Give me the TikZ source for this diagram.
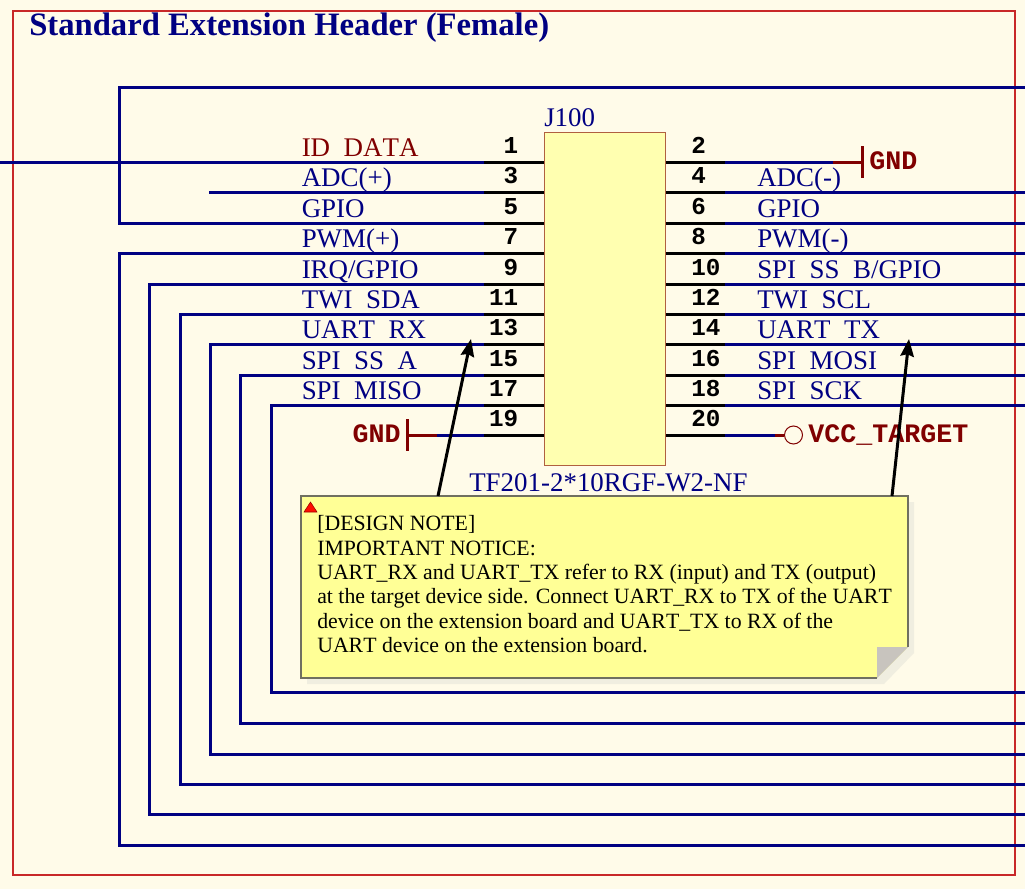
\documentclass[tikz,border=0pt]{standalone}
\usepackage{fontspec}
\setmainfont{Liberation Serif}[Kerning=Off]
\newfontfamily\pinfont{Liberation Mono}[BoldFont={Liberation Mono Bold}]
\usetikzlibrary{
    arrows.meta,
    calc
}
\definecolor{sheet}{RGB}{255,251,233}
\definecolor{framered}{RGB}{200,40,40}
\definecolor{netblue}{RGB}{0,0,130}
\definecolor{powerred}{RGB}{128,0,0}
\definecolor{chipfill}{RGB}{255,255,176}
\definecolor{chipline}{RGB}{176,96,64}
\definecolor{notefill}{RGB}{255,255,150}
\definecolor{noteline}{RGB}{112,112,96}
\definecolor{noteshadow}{RGB}{240,238,224}
\definecolor{notefold}{RGB}{200,196,190}
\newcommand{\lowus}{\raisebox{-3.5pt}{\_}}
\tikzset{
    wire/.style={netblue, line width=2.25pt},
    stub/.style={black, line width=2.25pt},
    powerwire/.style={powerred, line width=2.25pt},
    netlabel/.style={anchor=base west, inner sep=0pt, text=netblue, font=\fontsize{20.2}{24}\selectfont},
    pinnum/.style={inner sep=0pt, text=black, font=\pinfont\bfseries\fontsize{18.2}{20}\selectfont},
    powerlabel/.style={anchor=base west, inner sep=0pt, text=powerred, font=\pinfont\bfseries\fontsize{20}{22}\selectfont},
    notearrow/.style={black, line width=2.25pt, -{Stealth[length=13pt, width=10pt, inset=1.5pt]}}
}
\begin{document}
\begin{tikzpicture}[x=0.75pt, y=-0.75pt]
    \useasboundingbox (0, 0) rectangle (1025, 889);
    \fill[sheet] (0, 0) rectangle (1025, 889);
    \draw[draw=framered, line width=0.9pt] (13, 11) rectangle (1015, 875);

    \node[anchor=base west, inner sep=0pt, text=netblue, font=\bfseries\fontsize{24.5}{28}\selectfont] (title) at (29, 35) {Standard Extension Header (Female)};

    % connector body
    \node[draw=chipline, fill=chipfill, line width=0.75pt, minimum width=90.75pt, minimum height=249.75pt, inner sep=0pt] (J100) at (604.5, 298.5) {};
    \node[netlabel, anchor=base west] (designator) at (544, 126) {J100};
    \node[netlabel, anchor=base west] (partname) at (469, 491) {TF201-2*10RGF-W2-NF};

    % net names, the wires go over them
    \node[netlabel, text=powerred] (l1) at (301.5, 156) {ID\lowus DATA};
    \foreach \n/\y/\t in {3/192/ADC(+), 5/223/GPIO, 7/253/PWM(+), 9/284/IRQ{/}GPIO, 11/314/TWI\lowus SDA, 13/344/UART\lowus RX, 15/375/SPI\lowus SS\lowus A, 17/405/SPI\lowus MISO}
        \node[netlabel] (l\n) at (301.5, \y-6) {\t};
    \foreach \n/\y/\t in {4/192/ADC(-), 6/223/GPIO, 8/253/PWM(-), 10/284/SPI\lowus SS\lowus B{/}GPIO, 12/314/TWI\lowus SCL, 14/344/UART\lowus TX, 16/375/SPI\lowus MOSI, 18/405/SPI\lowus SCK}
        \node[netlabel] (l\n) at (757, \y-6) {\t};

    % pins
    \foreach \n/\y in {1/162, 3/192, 5/223, 7/253, 9/284, 11/314, 13/344, 15/375, 17/405, 19/435} {
        \coordinate (w\n) at (484, \y);
        \draw[stub] (w\n) -- (w\n -| J100.west);
        \node[pinnum, anchor=base east] (n\n) at (518.5, \y-8.5) {\n};
    }
    \foreach \n/\y in {2/162, 4/192, 6/223, 8/253, 10/284, 12/314, 14/344, 16/375, 18/405, 20/435} {
        \coordinate (w\n) at (725, \y);
        \draw[stub] (w\n) -- (w\n -| J100.east);
        \node[pinnum, anchor=base west] (n\n) at (691, \y-8.5) {\n};
    }

    % nets on the left
    \coordinate (idend) at (0, 162);
    \coordinate (adcend) at (209, 192);
    \coordinate (gpiotop) at (119, 87);
    \coordinate (gpioend) at (1025, 87);
    \draw[wire] (w1) -- (idend);
    \draw[wire] (w3) -- (adcend);
    \draw[wire] (w5) -| (gpiotop) -- (gpioend);
    \foreach \n/\x/\y in {7/119/845, 9/149/814, 11/180/784, 13/210/754, 15/240/723, 17/271/692} {
        \coordinate (b\n) at (\x, \y);
        \coordinate (e\n) at (1025, \y);
        \draw[wire] (w\n) -| (b\n) -- (e\n);
    }

    % nets on the right
    \foreach \n in {4, 6, 8, 10, 12, 14, 16, 18}
        \draw[wire] (w\n) -- (1025, 0 |- w\n);

    % power
    \coordinate (gndr) at (862, 162);
    \coordinate (gndl) at (407, 435);
    \coordinate (vcc) at (784, 435);
    \draw[wire] (w2) -- (833, 162);
    \draw[powerwire] (833, 162) -- (gndr);
    \draw[powerred, line width=2.25pt] ($(gndr)+(0, -16)$) -- ($(gndr)+(0, 16)$);
    \node[powerlabel] (gnd1) at (869, 169) {GND};
    \draw[wire] (w19) -- (437, 435);
    \draw[powerwire] (437, 435) -- (gndl);
    \draw[powerred, line width=2.25pt] ($(gndl)+(0, -16)$) -- ($(gndl)+(0, 16)$);
    \node[powerlabel, anchor=base east] (gnd2) at (401, 442) {GND};
    \draw[wire] (w20) -- (775, 435);
    \draw[powerwire] (775, 435) -- (vcc);
    \node[circle, draw=powerred, line width=0.75pt, minimum size=13.5pt, inner sep=0pt, anchor=west] (vcccirc) at (vcc) {};
    \node[powerlabel] (vcclabel) at (808, 442) {VCC\_TARGET};

    % note
    \fill[noteshadow] (307, 502) -- (914, 502) -- (914, 653) -- (884, 684) -- (307, 684) -- cycle;
    \fill[notefill] (301, 496) -- (908, 496) -- (908, 647) -- (877, 678) -- (301, 678) -- cycle;
    \fill[notefold] (877, 647) -- (908, 647) -- (877, 678) -- cycle;
    \draw[noteline, line width=1pt] (877, 678) -- (301, 678) -- (301, 496) -- (908, 496) -- (908, 647);
    \draw[red!60!black, fill=red!90!orange, line width=0.4pt] (304, 512) -- (310.5, 502) -- (317, 512) -- cycle;
    \node[anchor=north west, inner sep=0pt, align=left, text=black, font=\fontsize{16.35}{18.25}\selectfont] (notetext) at (317, 515.5) {[DESIGN NOTE]\\
IMPORTANT NOTICE:\\
UART\_RX and UART\_TX refer to RX (input) and TX (output)\\
at the target device side. Connect UART\_RX to TX of the UART\\
device on the extension board and UART\_TX to RX of the\\
UART device on the extension board.};

    \coordinate (rxfoot) at (438, 496);
    \coordinate (rxtip) at (471, 339);
    \coordinate (txfoot) at (892, 496);
    \coordinate (txtip) at (909, 339);
    \draw[notearrow] (rxfoot) -- (rxtip);
    \draw[notearrow] (txfoot) -- (txtip);
\end{tikzpicture}
\end{document}
